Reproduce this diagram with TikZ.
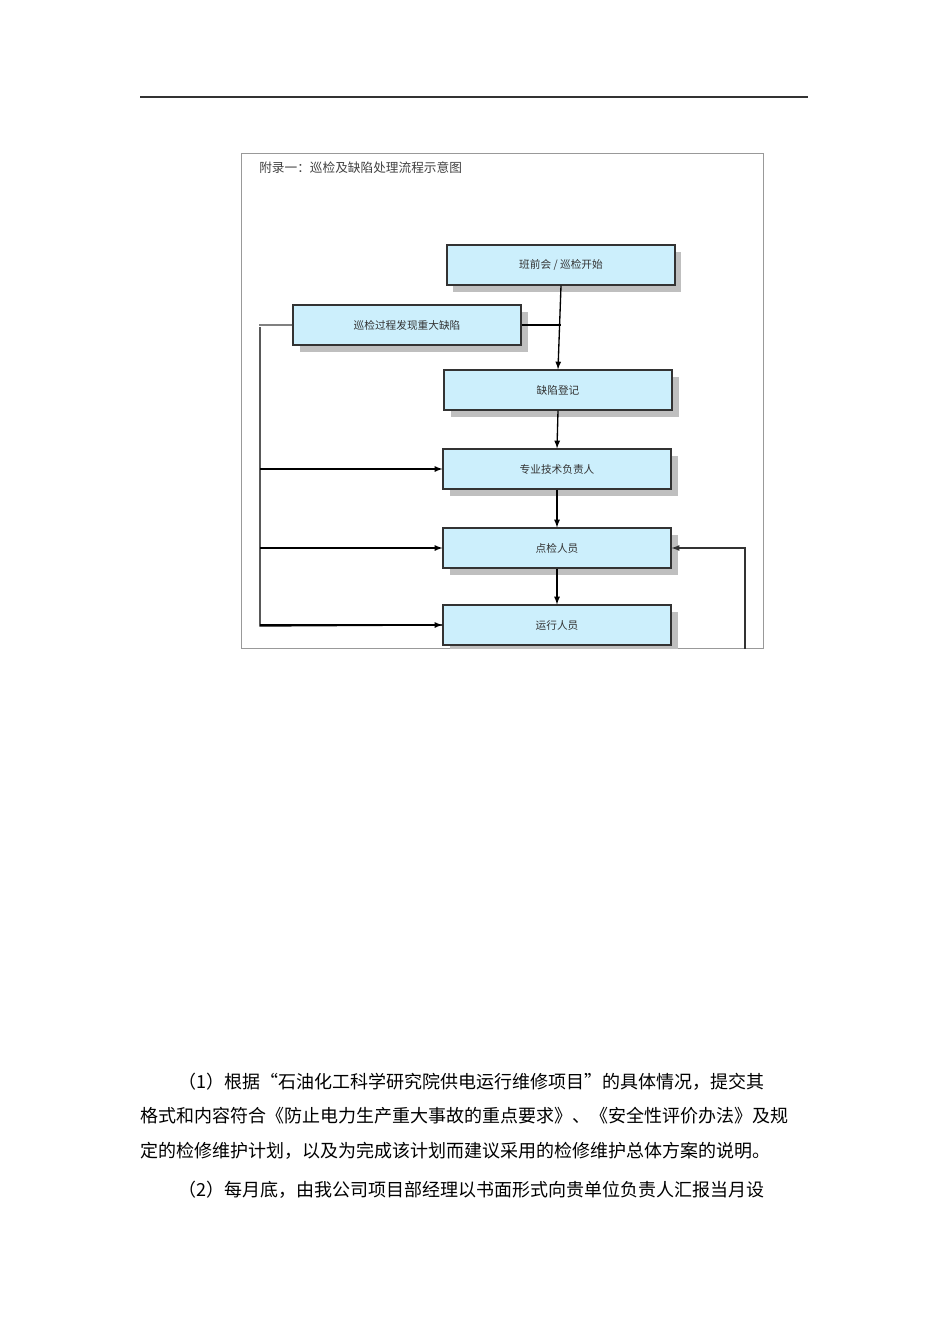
\documentclass[tikz,border=0pt]{standalone}
\usepackage{fontspec}
\newfontfamily\cjk{Noto Sans CJK SC}
\begin{document}
\begin{tikzpicture}[x=0.75pt,y=-0.75pt,
 box/.style={draw=black!80,line width=0.9pt,fill=cyan!20,minimum width=171pt,minimum height=30pt,inner sep=0pt,font=\cjk\fontsize{8}{8}\selectfont,text=black!80},
 shad/.style={fill=black!25},
 arr/.style={-latex,line width=1pt},
 txt/.style={anchor=base west,inner sep=0pt,font=\cjk\fontsize{13.5}{13.5}\selectfont}]
\useasboundingbox (0,0) rectangle (950,1344);
\draw[line width=0.8pt,black!80] (140,97) -- (808,97);
\draw[black!40,line width=0.6pt] (241,153) rectangle (763,648);
\begin{scope}
\clip (241,153) rectangle (763,648);
\node[anchor=west,inner sep=0pt,font=\cjk\fontsize{9.5}{9.5}\selectfont,text=black!75] (title) at (259,168) {附录一：巡检及缺陷处理流程示意图};
\foreach \xa/\ya in {446/245,293/305,444/370,443/449,443/528,443/605}
  \fill[shad] (\xa+7,\ya+7) rectangle (\xa+235,\ya+47);
\node[box] (a) at (561,265) {班前会 / 巡检开始};
\node[box] (b) at (407,325) {巡检过程发现重大缺陷};
\node[box] (c) at (558,390) {缺陷登记};
\node[box] (d) at (557,469) {专业技术负责人};
\node[box] (e) at (557,548) {点检人员};
\node[box] (f) at (557,625) {运行人员};
\coordinate (j) at (a.south |- b.east);
\draw[line width=1pt] (b.east) -- (j);
\draw[arr] (a.south) -- (c.north);
\draw[arr] (c.south) -- (d.north);
\draw[arr] (d.south) -- (e.north);
\draw[arr] (e.south) -- (f.north);
\coordinate (l) at (260,327);
\draw[black!50,line width=0.8pt] (b.west) -- ++(-33,0);
\draw[line width=1pt] (l) -- (260,626) -- (f.west);
\draw[arr] (l |- d.west) -- (d.west);
\draw[arr] (l |- e.west) -- (e.west);
\draw[arr] (f.west -| 260,0) -- (f.west);
\coordinate (r) at (745,660);
\draw[arr,black!80] (r) -- (745,548) -- (e.east);
\end{scope}
\node[txt] (p1) at (178,1088) {（1）根据“石油化工科学研究院供电运行维修项目”的具体情况，提交其};
\node[txt] (p2) at (140,1122) {格式和内容符合《防止电力生产重大事故的重点要求》、《安全性评价办法》及规};
\node[txt] (p3) at (140,1157) {定的检修维护计划，以及为完成该计划而建议采用的检修维护总体方案的说明。};
\node[txt] (p4) at (178,1196) {（2）每月底，由我公司项目部经理以书面形式向贵单位负责人汇报当月设};
\end{tikzpicture}
\end{document}
